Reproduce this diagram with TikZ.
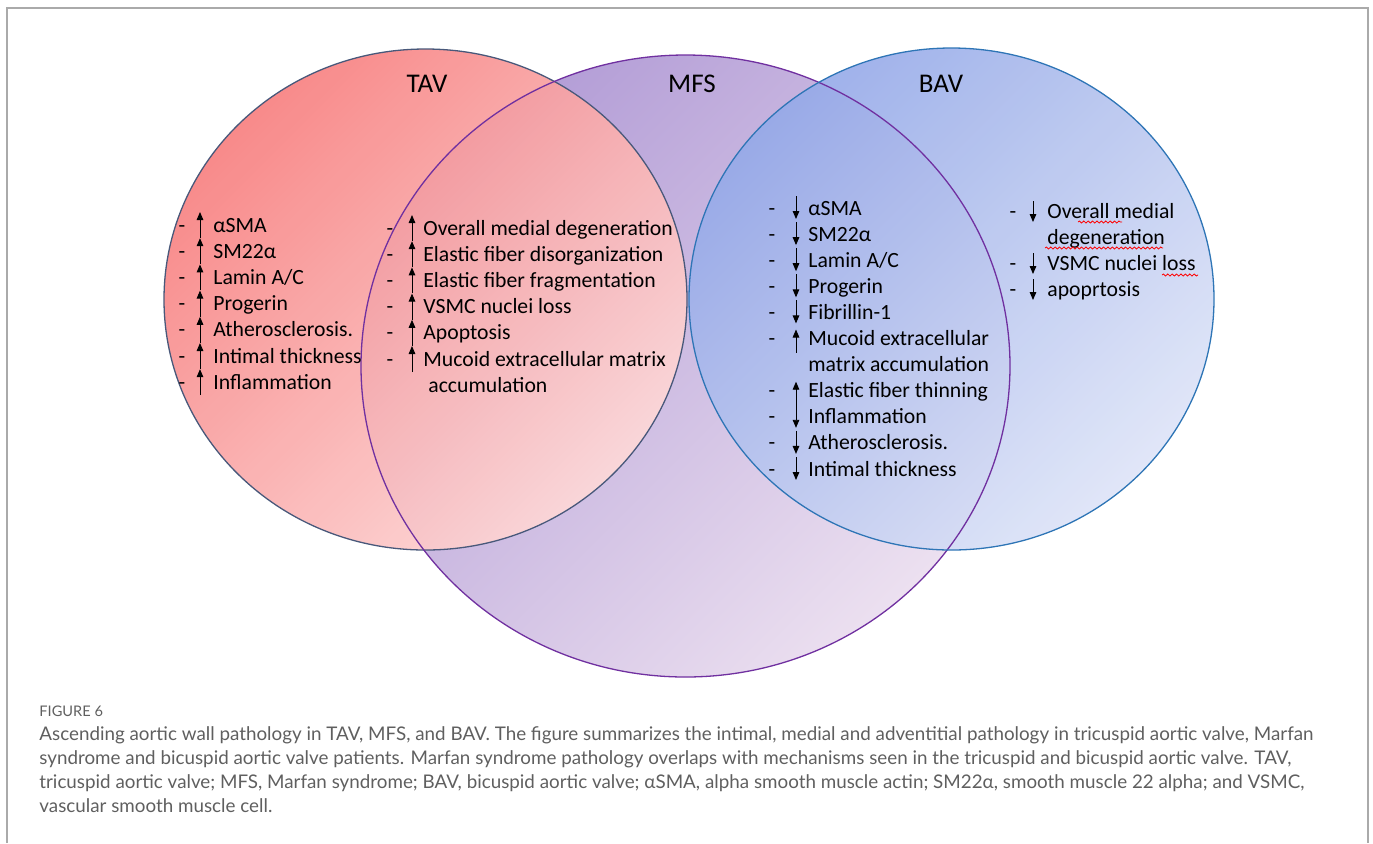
\documentclass[tikz,border=0pt]{standalone}
\usepackage{fontspec}
\setmainfont{Carlito}
\newfontfamily\capfont{Lato}
\usetikzlibrary{arrows.meta, decorations.pathmorphing}

\definecolor{tavtop}{RGB}{247,128,128}
\definecolor{tavbot}{RGB}{253,216,216}
\definecolor{mfstop}{RGB}{178,156,214}
\definecolor{mfsbot}{RGB}{236,224,240}
\definecolor{bavtop}{RGB}{150,170,232}
\definecolor{bavbot}{RGB}{222,228,247}
\definecolor{tavline}{RGB}{72,88,122}
\definecolor{mfsline}{RGB}{112,48,160}
\definecolor{bavline}{RGB}{46,117,182}
\definecolor{framegray}{RGB}{170,170,170}
\definecolor{captext}{RGB}{95,95,95}

\tikzset{
  item/.style={anchor=base west, inner sep=0pt, font=\fontsize{10.85}{13}\selectfont},
  hyph/.style={anchor=base, inner sep=0pt, font=\fontsize{10.85}{13}\selectfont},
  setlabel/.style={anchor=base, inner sep=0pt, font=\fontsize{13.5}{16}\selectfont},
  arr/.style={-{Triangle[length=4pt,width=3.3pt]}, line width=0.45pt},
  wavy/.style={red, line width=0.4pt, decorate, decoration={snake, amplitude=0.5pt, segment length=2.2pt}},
  capline/.style={anchor=base west, inner sep=0pt, text=captext, font=\capfont\fontsize{9.4}{11}\selectfont}
}

\begin{document}
\begin{tikzpicture}[x=0.5pt, y=-0.5pt]
  \useasboundingbox (0,0) rectangle (1373,843);
  \draw[framegray, line width=1pt] (6.5,843) -- (6.5,8) -- (1367.5,8) -- (1367.5,843);

  % the three sets
  \shade[top color=mfstop, bottom color=mfsbot, shading angle=45] (685.5,366) ellipse [x radius=324.5, y radius=311];
  \shade[top color=tavtop, bottom color=tavbot, shading angle=45, fill opacity=0.92] (425.5,299.5) ellipse [x radius=261.5, y radius=250.5];
  \shade[top color=bavtop, bottom color=bavbot, shading angle=45, fill opacity=0.92] (951.5,299) ellipse [x radius=262.5, y radius=251];
  \draw[tavline, line width=0.65pt] (425.5,299.5) ellipse [x radius=261.5, y radius=250.5];
  \draw[mfsline, line width=0.65pt] (685.5,366) ellipse [x radius=324.5, y radius=311];
  \draw[bavline, line width=0.65pt] (951.5,299) ellipse [x radius=262.5, y radius=251];

  \node[setlabel] (tav) at (427,92) {TAV};
  \node[setlabel] (mfs) at (692,92) {MFS};
  \node[setlabel] (bav) at (941,92) {BAV};

  % TAV only
  \foreach \t [count=\k from 0] in {αSMA, SM22α, Lamin A/C, Progerin, Atherosclerosis., Intimal thickness, Inflammation}{
    \pgfmathsetmacro\yy{226+26.2*\k}
    \node[hyph] (tavd\k) at (182,\yy+6) {-};
    \node[item] (tavt\k) at (213,\yy+6) {\t};
    \draw[arr] (200,\yy+12) -- (200,\yy-14);
  }

  % TAV and MFS
  \foreach \t [count=\k from 0] in {Overall medial degeneration, Elastic fiber disorganization, Elastic fiber fragmentation, VSMC nuclei loss, Apoptosis, Mucoid extracellular matrix}{
    \pgfmathsetmacro\yy{229+26.2*\k}
    \node[hyph] (mfsd\k) at (390,\yy+6) {-};
    \node[item] (mfst\k) at (423,\yy+6) {\t};
    \draw[arr] (412,\yy+12) -- (412,\yy-14);
  }
  \node[item] (mfst6) at (428,392) {accumulation};

  % MFS and BAV
  \foreach \t/\d [count=\k from 0] in {αSMA/1, SM22α/1, {Lamin A/C}/1, Progerin/1, Fibrillin-1/1, Mucoid extracellular/-1, matrix accumulation/0, Elastic fiber thinning/-1, Inflammation/1, Atherosclerosis./1, Intimal thickness/1}{
    \pgfmathsetmacro\yy{209+26.1*\k}
    \node[item] (bmt\k) at (808,\yy+6) {\t};
    \ifnum\d=0 \else
      \node[hyph] (bmd\k) at (772,\yy+6) {-};
      \draw[arr] (796,\yy-13*\d) -- (796,\yy+10*\d);
    \fi
  }

  % BAV only
  \foreach \t/\d [count=\k from 0] in {Overall medial/1, degeneration/0, VSMC nuclei loss/1, apoprtosis/1}{
    \pgfmathsetmacro\yy{212+26*\k}
    \node[item] (bot\k) at (1047,\yy+6) {\t};
    \ifnum\d=0 \else
      \node[hyph] (bod\k) at (1013,\yy+6) {-};
      \draw[arr] (1033,\yy-11) -- (1033,\yy+10);
    \fi
  }
  \draw[wavy] (1078,222) -- (1122,222);
  \draw[wavy] (1045,248) -- (1163,248);
  \draw[wavy] (1162,275) -- (1198,275);

  % caption
  \node[capline, font=\capfont\fontsize{7.3}{9}\selectfont] (fig) at (39,716) {FIGURE 6};
  \node[capline] (cap1) at (39,740) {Ascending aortic wall pathology in TAV, MFS, and BAV. The figure summarizes the intimal, medial and adventitial pathology in tricuspid aortic valve, Marfan};
  \node[capline] (cap2) at (39,764) {syndrome and bicuspid aortic valve patients. Marfan syndrome pathology overlaps with mechanisms seen in the tricuspid and bicuspid aortic valve. TAV,};
  \node[capline] (cap3) at (39,788) {tricuspid aortic valve; MFS, Marfan syndrome; BAV, bicuspid aortic valve; αSMA, alpha smooth muscle actin; SM22α, smooth muscle 22 alpha; and VSMC,};
  \node[capline] (cap4) at (39,812) {vascular smooth muscle cell.};
\end{tikzpicture}
\end{document}
